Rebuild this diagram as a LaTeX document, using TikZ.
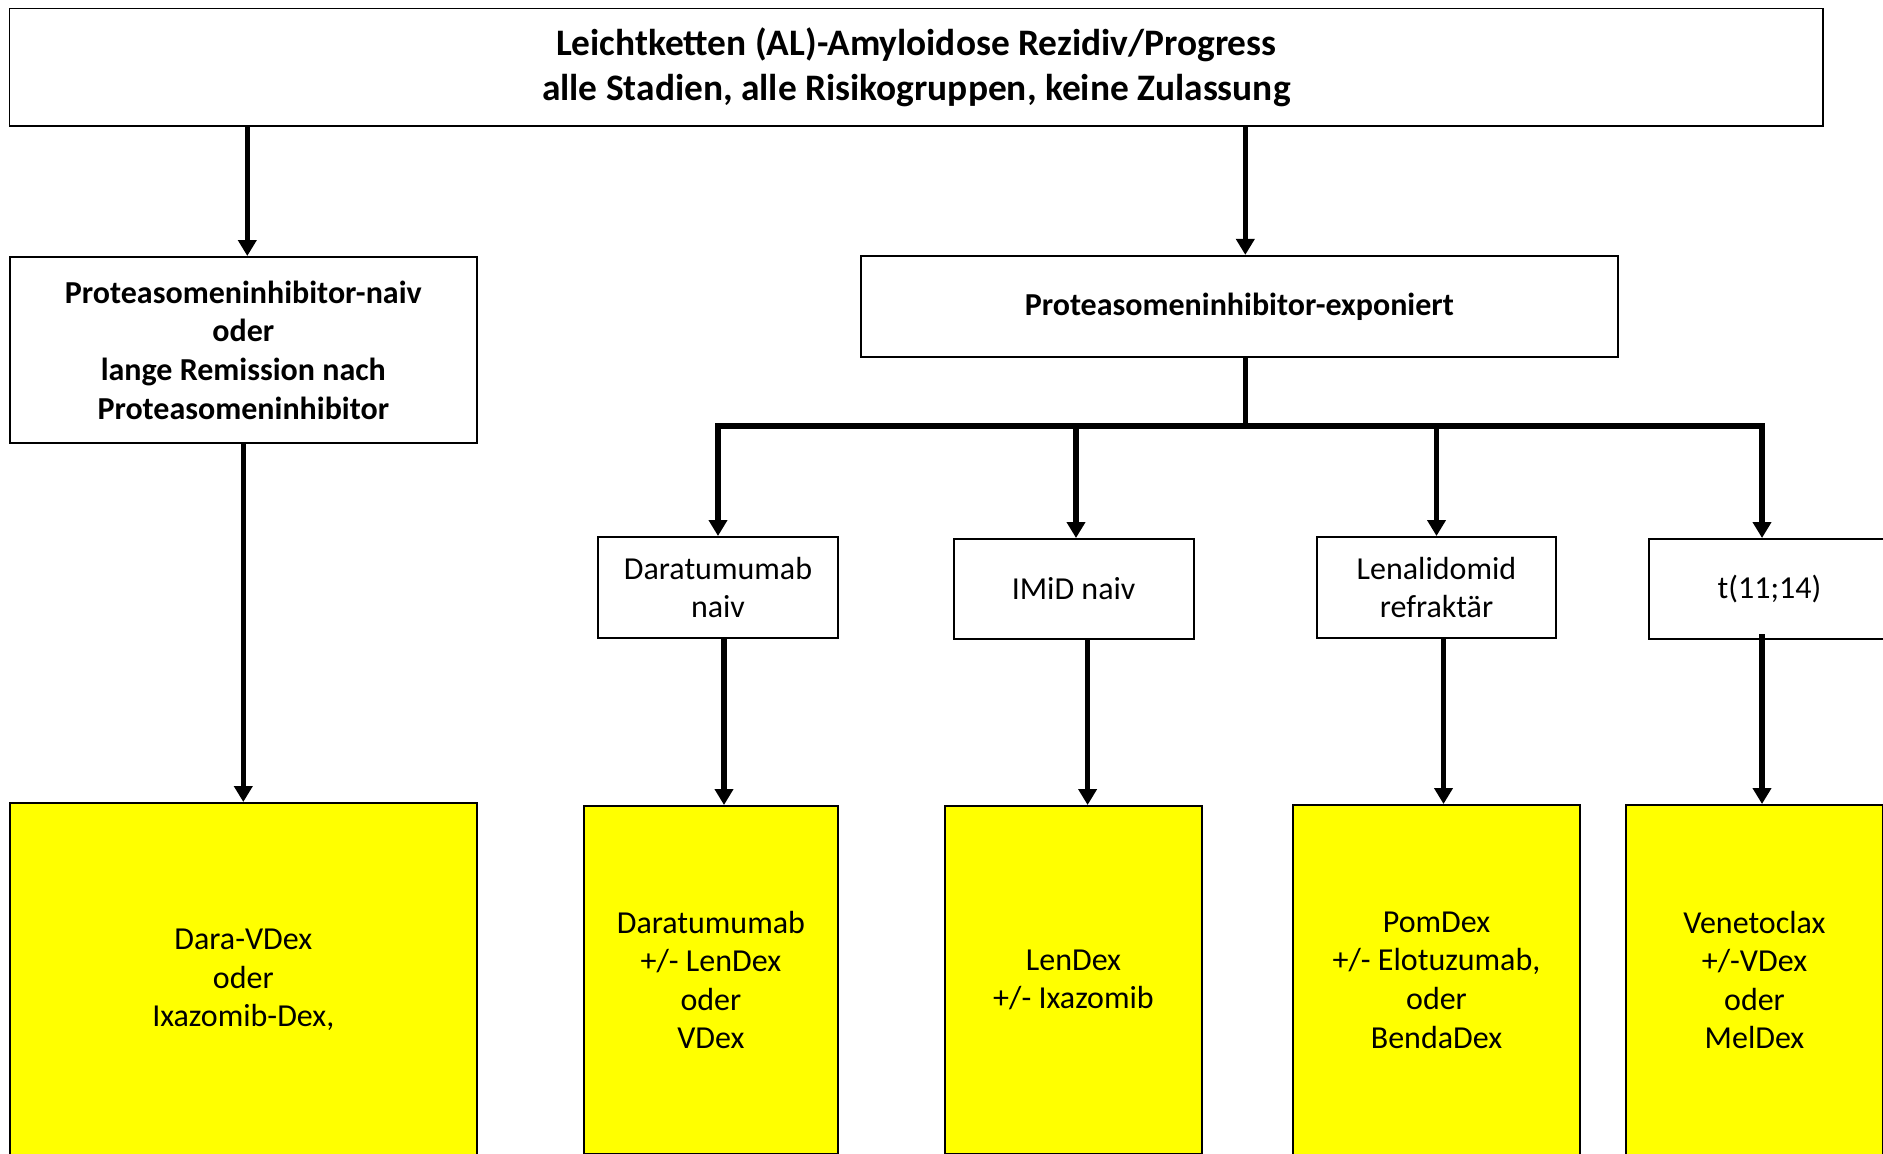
\documentclass[tikz,border=0pt]{standalone}
\usepackage{fontspec}
\setmainfont{Carlito}
\usetikzlibrary{arrows.meta,calc}
\definecolor{yel}{RGB}{255,255,0}
\begin{document}
\begin{tikzpicture}[x=0.5pt,y=-0.5pt,
  box/.style={draw=black,line width=1pt,fill=white,align=center,inner sep=0pt,
    font=\fontsize{16}{19.3}\selectfont},
  bbox/.style={box,font=\fontsize{16}{19.3}\selectfont\bfseries},
  ybox/.style={box,fill=yel},
  arr/.style={line width=2.7pt,-{Triangle[width=9pt,length=8pt]}},
  busline/.style={line width=2.9pt,line cap=rect}]
\path[use as bounding box,clip] (0,0) rectangle (1883,1153);
\fill[white] (0,0) rectangle (1883,1153);
% top box
\node[bbox,line width=0.8pt,minimum width=906.7pt,minimum height=58.8pt,
  font=\fontsize{18.7}{22.3}\selectfont\bfseries] (top) at (916.3,67.2)
  {Leichtketten (AL)-Amyloidose Rezidiv/Progress\\alle Stadien, alle Risikogruppen, keine Zulassung};
% second level
\node[bbox,minimum width=233.7pt,minimum height=93pt] (pin) at (243.3,350)
  {Proteasomeninhibitor-naiv\\oder\\lange Remission nach\\Proteasomeninhibitor};
\node[bbox,minimum width=378.3pt,minimum height=50.4pt] (pie) at (1239.3,306.3)
  {Proteasomeninhibitor-exponiert};
% third level
\node[box,minimum width=120pt,minimum height=50.4pt] (dn) at (718,587.4) {Daratumumab\\naiv};
\node[box,minimum width=120pt,minimum height=50pt] (imid) at (1073.6,589) {IMiD naiv};
\node[box,minimum width=119.5pt,minimum height=50.4pt] (len) at (1436.5,587.4) {Lenalidomid\\refraktär};
\node[box,minimum width=120.5pt,minimum height=50pt] (t) at (1769.5,589) {t(11;14)};
% yellow boxes
\node[ybox,minimum width=233.7pt,minimum height=177pt] (y1) at (243.3,980) {Dara-VDex\\oder\\Ixazomib-Dex,};
\node[ybox,minimum width=127.3pt,minimum height=174pt] (y2) at (710.9,980) {Daratumumab\\+/- LenDex\\oder\\VDex};
\node[ybox,minimum width=128.5pt,minimum height=174pt] (y3) at (1073.5,980) {LenDex\\+/- Ixazomib};
\node[ybox,minimum width=143.5pt,minimum height=175pt] (y4) at (1436.5,980) {PomDex\\+/- Elotuzumab,\\oder\\BendaDex};
\node[ybox,minimum width=128.5pt,minimum height=175pt] (y5) at (1754.5,980) {Venetoclax\\+/-VDex\\oder\\MelDex};
% connectors
\draw[arr] ([xshift=2pt]top.south -| pin.north) -- ([xshift=2pt]pin.north);
\draw[arr] ([xshift=3pt]top.south -| pie.north) -- ([xshift=3pt]pie.north);
\draw[arr] (pin.south) -- (pin.south |- y1.north);
\coordinate (busL) at (718,426);
\coordinate (busR) at (1762,426);
\draw[line width=2.7pt] ([xshift=3pt]pie.south) -- ([xshift=3pt]pie.south |- busL);
\draw[busline] (busL) -- (busR);
\draw[arr] (busL) -- (dn.north);
\draw[arr] ([xshift=1.2pt]imid.north |- busL) -- ([xshift=1.2pt]imid.north);
\draw[arr] (len.north |- busL) -- (len.north);
\draw[arr] (busR) -- (busR |- t.north);
\draw[arr] ([xshift=3pt]dn.south) -- ([xshift=3pt]dn.south |- y2.north);
\draw[arr] ([xshift=7pt]imid.south) -- ([xshift=7pt]imid.south |- y3.north);
\draw[arr] ([xshift=3.5pt]len.south) -- ([xshift=3.5pt]len.south |- y4.north);
\draw[arr] ([yshift=3pt]busR |- t.south) -- (busR |- y5.north);
\end{tikzpicture}
\end{document}
